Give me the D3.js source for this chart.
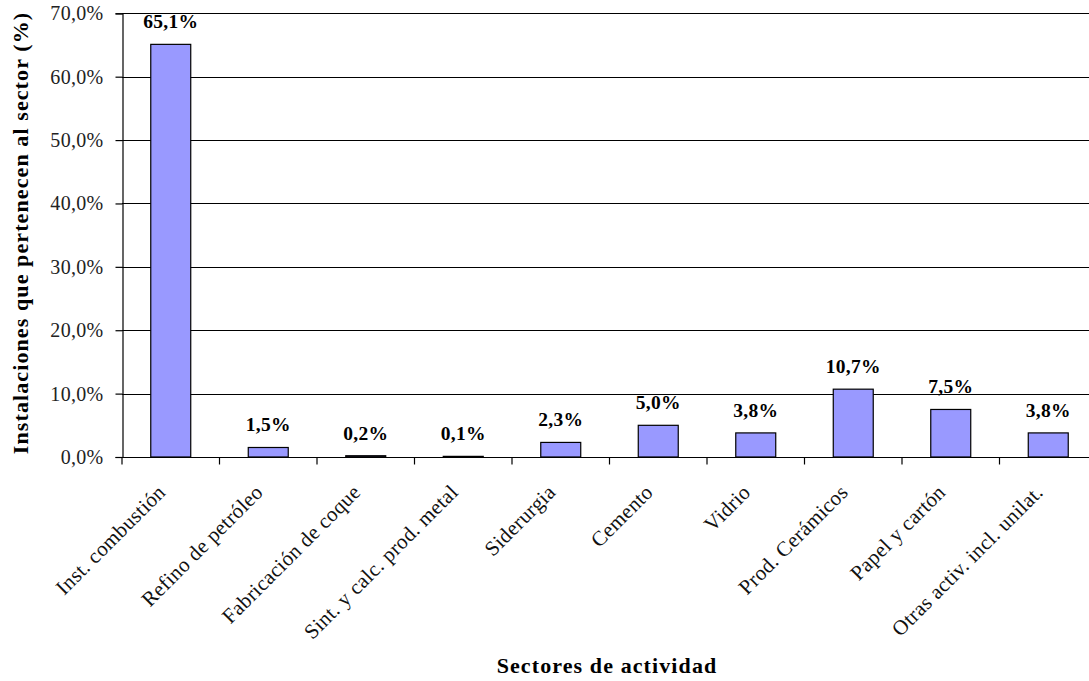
<!DOCTYPE html>
<html>
<head>
<meta charset="utf-8">
<script src="https://cdn.jsdelivr.net/npm/d3@7"></script>
<style>
  html, body { margin: 0; padding: 0; background: #fff; }
  svg { display: block; }
</style>
</head>
<body>
<svg id="chart" width="1089" height="681"></svg>
<script>
// Share of installations per activity sector
const sectors = [
  "Inst. combustión",
  "Refino de petróleo",
  "Fabricación de coque",
  "Sint. y calc. prod. metal",
  "Siderurgia",
  "Cemento",
  "Vidrio",
  "Prod. Cerámicos",
  "Papel y cartón",
  "Otras activ. incl. unilat."
];
const shares = [65.1, 1.5, 0.2, 0.1, 2.3, 5.0, 3.8, 10.7, 7.5, 3.8];
const yTicks = [0, 10, 20, 30, 40, 50, 60, 70];

const FONT = "Liberation Serif";
const fmt = v => v.toFixed(1).replace(".", ",") + "%";

const svg = d3.select("#chart");
const plotLeft = 122, plotRight = 1097, plotTop = 13.3, plotBottom = 457;

const x = d3.scaleBand().domain(sectors).range([plotLeft, plotRight]).paddingInner(0.59).paddingOuter(0.295);
const y = d3.scaleLinear().domain([0, 70]).range([plotBottom, plotTop]);

// horizontal gridlines
svg.append("g")
  .selectAll("line")
  .data(yTicks.filter(t => t > 0))
  .join("line")
  .attr("x1", plotLeft).attr("x2", 1089)
  .attr("y1", d => Math.round(y(d)) + 0.5).attr("y2", d => Math.round(y(d)) + 0.5)
  .attr("stroke", "#000").attr("stroke-width", 1);

// bars
svg.append("g")
  .selectAll("rect")
  .data(shares)
  .join("rect")
  .attr("x", (d, i) => x(sectors[i]))
  .attr("width", x.bandwidth())
  .attr("y", d => y(d))
  .attr("height", d => plotBottom - y(d))
  .attr("fill", "#9999ff")
  .attr("stroke", "#000")
  .attr("stroke-width", 1.2);

// value labels
svg.append("g")
  .selectAll("text")
  .data(shares)
  .join("text")
  .attr("x", (d, i) => x(sectors[i]) + x.bandwidth() / 2)
  .attr("y", d => y(d) - 16)
  .attr("text-anchor", "middle")
  .attr("font-family", FONT)
  .attr("font-weight", "bold")
  .attr("font-size", 19.5)
  .attr("letter-spacing", 0.3)
  .attr("fill", "#000")
  .text(d => fmt(d));

// y axis
const yAxis = svg.append("g")
  .attr("transform", `translate(${plotLeft + 0.5},0)`)
  .call(d3.axisLeft(y).tickValues(yTicks).tickSize(7).tickPadding(12).tickFormat(d => fmt(d)));
yAxis.attr("font-family", FONT).attr("font-size", 20);
yAxis.select(".domain").attr("stroke", "#000").attr("stroke-width", 1.2);
yAxis.selectAll(".tick line").attr("stroke", "#000").attr("stroke-width", 1.2);
yAxis.selectAll(".tick text")
  .attr("font-family", FONT)
  .attr("font-size", 20)
  .attr("letter-spacing", 0.3)
  .attr("fill", "#222");

// x axis with ticks on band boundaries
const xg = svg.append("g").attr("transform", `translate(0,${plotBottom + 0.5})`);
xg.append("line").attr("x1", plotLeft).attr("x2", 1089).attr("stroke", "#000").attr("stroke-width", 1.2);
const step = x.step();
xg.selectAll("line.tick")
  .data(d3.range(sectors.length + 1))
  .join("line")
  .attr("class", "tick")
  .attr("x1", i => plotLeft + i * step).attr("x2", i => plotLeft + i * step)
  .attr("y1", 0).attr("y2", 7)
  .attr("stroke", "#000").attr("stroke-width", 1.2);

xg.selectAll("text")
  .data(sectors)
  .join("text")
  .attr("transform", d => `translate(${x(d) + x.bandwidth() / 2 - 4},${36}) rotate(-45)`)
  .attr("text-anchor", "end")
  .attr("font-family", FONT)
  .attr("font-size", 21)
  .attr("letter-spacing", 0.3)
  .attr("fill", "#111")
  .text(d => d);

// axis titles
svg.append("text")
  .attr("x", 607).attr("y", 673)
  .attr("text-anchor", "middle")
  .attr("font-family", FONT)
  .attr("font-weight", "bold")
  .attr("font-size", 22)
  .attr("letter-spacing", 1.1)
  .text("Sectores de actividad");

svg.append("text")
  .attr("transform", "translate(28,233) rotate(-90)")
  .attr("text-anchor", "middle")
  .attr("font-family", FONT)
  .attr("font-weight", "bold")
  .attr("font-size", 22)
  .attr("letter-spacing", 1.1)
  .text("Instalaciones que pertenecen al sector (%)");
</script>
</body>
</html>
